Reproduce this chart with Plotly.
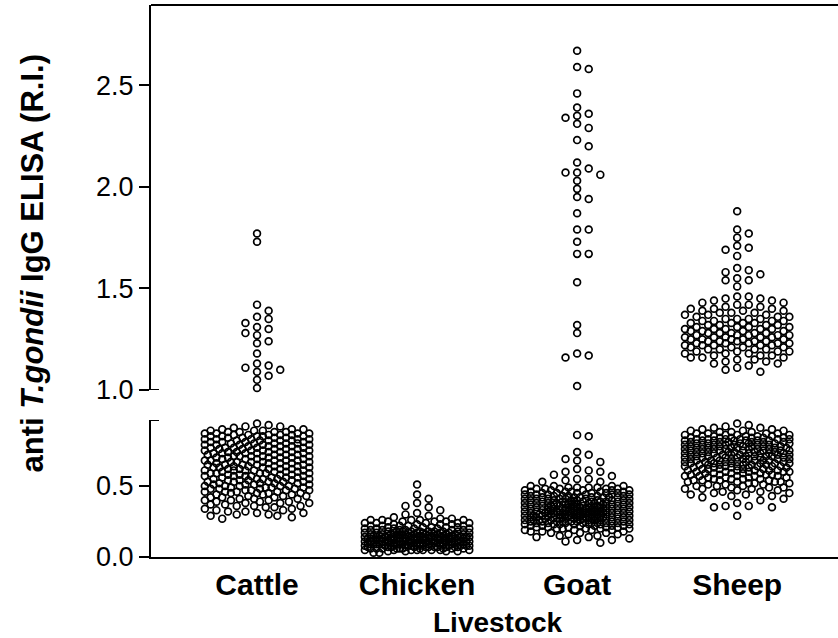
import numpy as np
import plotly.graph_objects as go

categories = ["Cattle", "Chicken", "Goat", "Sheep"]

cattle_upper = [1.77, 1.73, 1.42, 1.39, 1.36, 1.35, 1.33, 1.31, 1.30, 1.28, 1.27,
                1.24, 1.23, 1.18, 1.13, 1.12, 1.11, 1.10, 1.09, 1.07, 1.05, 1.01]
cattle_lower = [
    0.94, 0.93, 0.92, 0.92, 0.91, 0.90, 0.90, 0.90, 0.89, 0.89,
    0.89, 0.88, 0.88, 0.88, 0.88, 0.87, 0.87, 0.87,
    0.87, 0.86, 0.86, 0.86, 0.86, 0.86, 0.85, 0.85, 0.85, 0.85,
    0.85, 0.84, 0.84, 0.84, 0.84, 0.83, 0.83, 0.83, 0.83, 0.83,
    0.82, 0.82, 0.82, 0.82, 0.82, 0.81, 0.81, 0.81, 0.81, 0.80,
    0.80, 0.80, 0.80, 0.80, 0.79, 0.79, 0.79, 0.79, 0.79, 0.78,
    0.78, 0.78, 0.78, 0.77, 0.77, 0.77, 0.77, 0.77, 0.76, 0.76,
    0.76, 0.76, 0.76, 0.75, 0.75, 0.75, 0.75, 0.74, 0.74, 0.74,
    0.74, 0.74, 0.73, 0.73, 0.73, 0.73, 0.73, 0.72, 0.72, 0.72,
    0.72, 0.71, 0.71, 0.71, 0.71, 0.71, 0.70, 0.70, 0.70, 0.70,
    0.70, 0.69, 0.69, 0.69, 0.69, 0.68, 0.68, 0.68, 0.68, 0.68,
    0.67, 0.67, 0.67, 0.67, 0.67, 0.66, 0.66, 0.66, 0.66, 0.65,
    0.65, 0.65, 0.65, 0.65, 0.64, 0.64, 0.64, 0.64, 0.64, 0.63,
    0.63, 0.63, 0.63, 0.62, 0.62, 0.62, 0.62, 0.62, 0.61, 0.61,
    0.61, 0.61, 0.61, 0.60, 0.60, 0.60, 0.60, 0.59, 0.59, 0.59,
    0.59, 0.59, 0.58, 0.58, 0.58, 0.58, 0.57, 0.57, 0.57, 0.57,
    0.57, 0.56, 0.56, 0.56, 0.56, 0.55, 0.55, 0.55, 0.55, 0.55,
    0.54, 0.54, 0.54, 0.54, 0.53, 0.53, 0.53, 0.53, 0.53, 0.52,
    0.52, 0.52, 0.52, 0.51, 0.51, 0.51, 0.51, 0.50, 0.50, 0.50,
    0.50, 0.50, 0.49, 0.49, 0.49, 0.49, 0.48, 0.48, 0.48, 0.48,
    0.47, 0.47, 0.47, 0.47, 0.46, 0.46, 0.46, 0.46, 0.45, 0.45,
    0.45, 0.45, 0.44, 0.44, 0.44, 0.43, 0.43, 0.43, 0.42, 0.42,
    0.42, 0.41, 0.41, 0.41, 0.40, 0.40, 0.40, 0.39, 0.39, 0.39,
    0.38, 0.38, 0.38, 0.37, 0.37, 0.36, 0.36, 0.36, 0.35, 0.35,
    0.34, 0.34, 0.33, 0.33, 0.32, 0.32, 0.31, 0.31, 0.30, 0.30,
    0.29, 0.29, 0.28, 0.27]

chicken_upper = []
chicken_lower = [
    0.51, 0.44, 0.41, 0.38, 0.36, 0.35, 0.33, 0.31, 0.30, 0.29,
    0.28, 0.27, 0.27, 0.26, 0.26, 0.26, 0.26, 0.26, 0.25, 0.25,
    0.25, 0.25, 0.24, 0.24, 0.24, 0.24, 0.24, 0.23, 0.23, 0.23,
    0.23, 0.22, 0.22, 0.22, 0.22, 0.22, 0.21, 0.21, 0.21, 0.21,
    0.21, 0.20, 0.20, 0.20, 0.20, 0.20, 0.20, 0.19, 0.19, 0.19,
    0.19, 0.19, 0.19, 0.18, 0.18, 0.18, 0.18, 0.18, 0.18, 0.18,
    0.18, 0.18, 0.17, 0.17, 0.17, 0.17, 0.17, 0.17, 0.17, 0.17,
    0.17, 0.17, 0.16, 0.16, 0.16, 0.16, 0.16, 0.16, 0.16, 0.16,
    0.16, 0.16, 0.16, 0.15, 0.15, 0.15, 0.15, 0.15, 0.15, 0.15,
    0.15, 0.15, 0.15, 0.15, 0.15, 0.14, 0.14, 0.14, 0.14, 0.14,
    0.14, 0.14, 0.14, 0.14, 0.14, 0.14, 0.14, 0.14, 0.13, 0.13,
    0.13, 0.13, 0.13, 0.13, 0.13, 0.13, 0.13, 0.13, 0.13, 0.13,
    0.13, 0.13, 0.12, 0.12, 0.12, 0.12, 0.12, 0.12, 0.12, 0.12,
    0.12, 0.12, 0.12, 0.12, 0.12, 0.12, 0.12, 0.11, 0.11, 0.11,
    0.11, 0.11, 0.11, 0.11, 0.11, 0.11, 0.11, 0.11, 0.11, 0.11,
    0.11, 0.11, 0.10, 0.10, 0.10, 0.10, 0.10, 0.10, 0.10, 0.10,
    0.10, 0.10, 0.10, 0.10, 0.10, 0.10, 0.10, 0.09, 0.09, 0.09,
    0.09, 0.09, 0.09, 0.09, 0.09, 0.09, 0.09, 0.09, 0.09, 0.09,
    0.09, 0.08, 0.08, 0.08, 0.08, 0.08, 0.08, 0.08, 0.08, 0.08,
    0.08, 0.08, 0.08, 0.08, 0.07, 0.07, 0.07, 0.07, 0.07, 0.07,
    0.07, 0.07, 0.07, 0.07, 0.07, 0.07, 0.06, 0.06, 0.06, 0.06,
    0.06, 0.06, 0.06, 0.06, 0.06, 0.06, 0.05, 0.05, 0.05, 0.05,
    0.05, 0.05, 0.05, 0.05, 0.04, 0.04, 0.04, 0.04, 0.03, 0.03]

goat_upper = [2.67, 2.59, 2.58, 2.46, 2.39, 2.36, 2.35, 2.34, 2.31, 2.29,
              2.23, 2.20, 2.12, 2.09, 2.07, 2.07, 2.06, 2.03, 1.99, 1.95,
              1.94, 1.87, 1.79, 1.79, 1.73, 1.67, 1.67, 1.53, 1.32, 1.28,
              1.18, 1.17, 1.16, 1.02]
goat_lower = [
    0.86, 0.85, 0.74, 0.72, 0.69, 0.68, 0.67, 0.62, 0.61, 0.60,
    0.60, 0.58, 0.57, 0.55, 0.55, 0.54, 0.53, 0.53, 0.50, 0.50,
    0.50, 0.50, 0.49, 0.49, 0.49, 0.49, 0.48, 0.48, 0.48, 0.48,
    0.48, 0.47, 0.47, 0.47, 0.47, 0.47, 0.46, 0.46, 0.46, 0.46,
    0.46, 0.45, 0.45, 0.45, 0.45, 0.45, 0.45, 0.44, 0.44, 0.44,
    0.44, 0.44, 0.44, 0.43, 0.43, 0.43, 0.43, 0.43, 0.43, 0.42,
    0.42, 0.42, 0.42, 0.42, 0.42, 0.42, 0.41, 0.41, 0.41, 0.41,
    0.41, 0.41, 0.41, 0.40, 0.40, 0.40, 0.40, 0.40, 0.40, 0.40,
    0.39, 0.39, 0.39, 0.39, 0.39, 0.39, 0.39, 0.39, 0.38, 0.38,
    0.38, 0.38, 0.38, 0.38, 0.38, 0.38, 0.37, 0.37, 0.37, 0.37,
    0.37, 0.37, 0.37, 0.37, 0.36, 0.36, 0.36, 0.36, 0.36, 0.36,
    0.36, 0.36, 0.36, 0.35, 0.35, 0.35, 0.35, 0.35, 0.35, 0.35,
    0.35, 0.35, 0.34, 0.34, 0.34, 0.34, 0.34, 0.34, 0.34, 0.34,
    0.34, 0.33, 0.33, 0.33, 0.33, 0.33, 0.33, 0.33, 0.33, 0.33,
    0.33, 0.32, 0.32, 0.32, 0.32, 0.32, 0.32, 0.32, 0.32, 0.32,
    0.32, 0.31, 0.31, 0.31, 0.31, 0.31, 0.31, 0.31, 0.31, 0.31,
    0.31, 0.30, 0.30, 0.30, 0.30, 0.30, 0.30, 0.30, 0.30, 0.30,
    0.30, 0.29, 0.29, 0.29, 0.29, 0.29, 0.29, 0.29, 0.29, 0.29,
    0.29, 0.28, 0.28, 0.28, 0.28, 0.28, 0.28, 0.28, 0.28, 0.28,
    0.28, 0.27, 0.27, 0.27, 0.27, 0.27, 0.27, 0.27, 0.27, 0.27,
    0.26, 0.26, 0.26, 0.26, 0.26, 0.26, 0.26, 0.26, 0.26, 0.25,
    0.25, 0.25, 0.25, 0.25, 0.25, 0.25, 0.25, 0.24, 0.24, 0.24,
    0.24, 0.24, 0.24, 0.24, 0.24, 0.23, 0.23, 0.23, 0.23, 0.23,
    0.23, 0.23, 0.22, 0.22, 0.22, 0.22, 0.22, 0.22, 0.21, 0.21,
    0.21, 0.21, 0.21, 0.20, 0.20, 0.20, 0.20, 0.20, 0.19, 0.19,
    0.19, 0.19, 0.18, 0.18, 0.18, 0.17, 0.17, 0.17, 0.16, 0.16,
    0.15, 0.15, 0.14, 0.14, 0.13, 0.12, 0.12, 0.11, 0.10]

sheep_upper = [
    1.88, 1.79, 1.77, 1.75, 1.71, 1.70, 1.69, 1.66, 1.60, 1.59,
    1.58, 1.57, 1.55, 1.54, 1.54, 1.51, 1.46, 1.46, 1.45, 1.45,
    1.44, 1.44, 1.43, 1.43, 1.42, 1.42, 1.41, 1.41, 1.40, 1.40,
    1.40, 1.39, 1.39, 1.39, 1.38, 1.38, 1.38, 1.37, 1.37, 1.37,
    1.36, 1.36, 1.36, 1.35, 1.35, 1.35, 1.35, 1.34, 1.34, 1.34,
    1.34, 1.33, 1.33, 1.33, 1.33, 1.32, 1.32, 1.32, 1.32, 1.31,
    1.31, 1.31, 1.31, 1.30, 1.30, 1.30, 1.30, 1.30, 1.29, 1.29,
    1.29, 1.29, 1.28, 1.28, 1.28, 1.28, 1.28, 1.27, 1.27, 1.27,
    1.27, 1.27, 1.26, 1.26, 1.26, 1.26, 1.26, 1.25, 1.25, 1.25,
    1.25, 1.25, 1.24, 1.24, 1.24, 1.24, 1.24, 1.23, 1.23, 1.23,
    1.23, 1.23, 1.22, 1.22, 1.22, 1.22, 1.22, 1.21, 1.21, 1.21,
    1.21, 1.20, 1.20, 1.20, 1.20, 1.19, 1.19, 1.19, 1.19, 1.18,
    1.18, 1.18, 1.17, 1.17, 1.17, 1.16, 1.16, 1.16, 1.15, 1.15,
    1.14, 1.14, 1.13, 1.13, 1.12, 1.11, 1.10, 1.09]
sheep_lower = [
    0.94, 0.93, 0.92, 0.91, 0.91, 0.90, 0.90, 0.89, 0.89, 0.89,
    0.88, 0.88, 0.88, 0.87, 0.87, 0.87, 0.87, 0.86, 0.86, 0.86,
    0.86, 0.85, 0.85, 0.85, 0.85, 0.85, 0.84, 0.84, 0.84, 0.84,
    0.84, 0.84, 0.83, 0.83, 0.83, 0.83, 0.83, 0.83, 0.82, 0.82,
    0.82, 0.82, 0.82, 0.82, 0.82, 0.81, 0.81, 0.81, 0.81, 0.81,
    0.81, 0.80, 0.80, 0.80, 0.80, 0.80, 0.80, 0.79, 0.79, 0.79,
    0.79, 0.79, 0.79, 0.79, 0.78, 0.78, 0.78, 0.78, 0.78, 0.78,
    0.77, 0.77, 0.77, 0.77, 0.77, 0.77, 0.76, 0.76, 0.76, 0.76,
    0.76, 0.76, 0.76, 0.75, 0.75, 0.75, 0.75, 0.75, 0.75, 0.74,
    0.74, 0.74, 0.74, 0.74, 0.74, 0.73, 0.73, 0.73, 0.73, 0.73,
    0.73, 0.73, 0.72, 0.72, 0.72, 0.72, 0.72, 0.72, 0.71, 0.71,
    0.71, 0.71, 0.71, 0.71, 0.70, 0.70, 0.70, 0.70, 0.70, 0.70,
    0.70, 0.69, 0.69, 0.69, 0.69, 0.69, 0.69, 0.68, 0.68, 0.68,
    0.68, 0.68, 0.68, 0.67, 0.67, 0.67, 0.67, 0.67, 0.67, 0.66,
    0.66, 0.66, 0.66, 0.66, 0.66, 0.65, 0.65, 0.65, 0.65, 0.65,
    0.65, 0.64, 0.64, 0.64, 0.64, 0.64, 0.64, 0.63, 0.63, 0.63,
    0.63, 0.63, 0.62, 0.62, 0.62, 0.62, 0.62, 0.61, 0.61, 0.61,
    0.61, 0.61, 0.60, 0.60, 0.60, 0.60, 0.60, 0.59, 0.59, 0.59,
    0.59, 0.59, 0.58, 0.58, 0.58, 0.58, 0.57, 0.57, 0.57, 0.57,
    0.57, 0.56, 0.56, 0.56, 0.56, 0.55, 0.55, 0.55, 0.55, 0.54,
    0.54, 0.54, 0.54, 0.53, 0.53, 0.53, 0.53, 0.52, 0.52, 0.52,
    0.51, 0.51, 0.51, 0.50, 0.50, 0.50, 0.49, 0.49, 0.49, 0.48,
    0.48, 0.48, 0.47, 0.47, 0.46, 0.46, 0.45, 0.45, 0.44, 0.44,
    0.43, 0.43, 0.42, 0.41, 0.40, 0.38, 0.36, 0.36, 0.35, 0.35,
    0.29]

lower_ticks = [0.0, 0.5]
upper_ticks = [1.0, 1.5, 2.0, 2.5]
lower_range = [0.0, 0.965]
upper_range = [1.0, 2.895]
x_title = "Livestock"
y_title = "<b>anti <i>T.gondii</i> IgG ELISA (R.I.)</b>"

FONT = "Arial, Liberation Sans, Helvetica, sans-serif"
W, H = 838, 638
ML, MR, MT, MB = 151, 0, 5, 81
plot_w = W - ML - MR
plot_h = H - MT - MB
lower_dom = [0.0, 137.0 / plot_h]
upper_dom = [167.0 / plot_h, 1.0]
x_range = [-0.6625, 3.63]

px_per_x = plot_w / (x_range[1] - x_range[0])
lower_ppu = plot_h * (lower_dom[1] - lower_dom[0]) / (lower_range[1] - lower_range[0])
upper_ppu = plot_h * (upper_dom[1] - upper_dom[0]) / (upper_range[1] - upper_range[0])

QUARTER = 2.9
COLLIDE = 7.6
_k = range(-18, 19)
CAND = (sorted([k for k in _k if k % 4 == 0], key=lambda k: (abs(k), -k))
        + sorted([k for k in _k if k % 4 == 2], key=lambda k: (abs(k), -k))
        + sorted([k for k in _k if k % 2 == 1], key=lambda k: (abs(k), -k)))


def swarm_offsets(vals, ppu):
    """Beeswarm layout: pixel x-offsets derived from the values."""
    ys = np.asarray(vals, dtype=float) * ppu
    offs = np.zeros(len(ys))
    order = np.argsort(-ys, kind="stable")
    px, py = [], []
    for i in order:
        y = ys[i]
        pxa, pya = np.array(px), np.array(py)
        if len(pxa):
            near = np.abs(pya - y) < COLLIDE
            pxa, pya = pxa[near], pya[near]
        best, bestd = 0.0, -1.0
        chosen = None
        for k in CAND:
            c = k * QUARTER
            d = np.inf if len(pxa) == 0 else np.min(np.hypot(pxa - c, pya - y))
            if d >= COLLIDE:
                chosen = c
                break
            if d > bestd + 1e-9:
                bestd, best = d, c
        if chosen is None:
            chosen = best
        offs[i] = chosen
        px.append(chosen)
        py.append(y)
    return offs, order


marker = dict(symbol="circle-open", size=6.8, color="black",
              line=dict(color="black", width=1.7))

groups = [
    (cattle_lower, cattle_upper),
    (chicken_lower, chicken_upper),
    (goat_lower, goat_upper),
    (sheep_lower, sheep_upper),
]

fig = go.Figure()
for gi, (low, up) in enumerate(groups):
    for vals, ppu, yax in ((low, lower_ppu, "y"), (up, upper_ppu, "y2")):
        if not vals:
            continue
        offs, order = swarm_offsets(vals, ppu)
        xs = gi + offs / px_per_x
        yv = np.asarray(vals, dtype=float)
        fig.add_trace(go.Scatter(
            x=xs[order], y=yv[order], mode="markers", marker=marker,
            yaxis=yax, xaxis="x", showlegend=False, cliponaxis=False,
            hoverinfo="skip"))

axis_common = dict(showline=True, linewidth=2, linecolor="black",
                   ticks="outside", ticklen=10, tickwidth=2, tickcolor="black",
                   showgrid=False, zeroline=False, tickformat=".1f",
                   tickfont=dict(family=FONT, size=27, color="black"))

fig.update_layout(
    width=W, height=H,
    margin=dict(l=ML, r=MR, t=MT, b=MB, pad=0),
    paper_bgcolor="white", plot_bgcolor="white",
    xaxis=dict(domain=[0, 1], range=x_range, showline=True, linewidth=2,
               linecolor="black", ticks="", showgrid=False, zeroline=False,
               tickvals=list(range(len(categories))), ticktext=categories,
               tickfont=dict(family=FONT, size=30, color="black", weight="bold"),
               anchor="y", fixedrange=True),
    yaxis=dict(domain=lower_dom, range=lower_range, tickvals=lower_ticks,
               anchor="x", **axis_common),
    yaxis2=dict(domain=upper_dom, range=upper_range, tickvals=upper_ticks,
                anchor="x", **axis_common),
    shapes=[
        dict(type="line", xref="paper", yref="paper", x0=0, x1=1, y0=1, y1=1,
             line=dict(color="black", width=2)),
        dict(type="line", xref="paper", yref="y", x0=0, x1=8 / plot_w,
             y0=lower_range[1], y1=lower_range[1], line=dict(color="black", width=2)),
        dict(type="line", xref="paper", yref="y2", x0=0, x1=8 / plot_w,
             y0=upper_range[0], y1=upper_range[0], line=dict(color="black", width=2)),
    ],
    annotations=[
        dict(text=y_title, xref="paper", yref="paper",
             x=(32 - ML) / plot_w, y=(557 - 263.5) / plot_h,
             xanchor="center", yanchor="middle", textangle=-90, showarrow=False,
             font=dict(family=FONT, size=31, color="black")),
        dict(text="<b>" + x_title + "</b>", xref="paper", yref="paper",
             x=(498 - ML) / plot_w, y=(557 - 622) / plot_h,
             xanchor="center", yanchor="middle", showarrow=False,
             font=dict(family=FONT, size=28, color="black")),
    ],
)

fig.write_html("out.html",
               config={"displayModeBar": False, "staticPlot": True},
               post_script="document.body.style.margin='0px';"
                           "document.body.style.overflow='hidden';")
